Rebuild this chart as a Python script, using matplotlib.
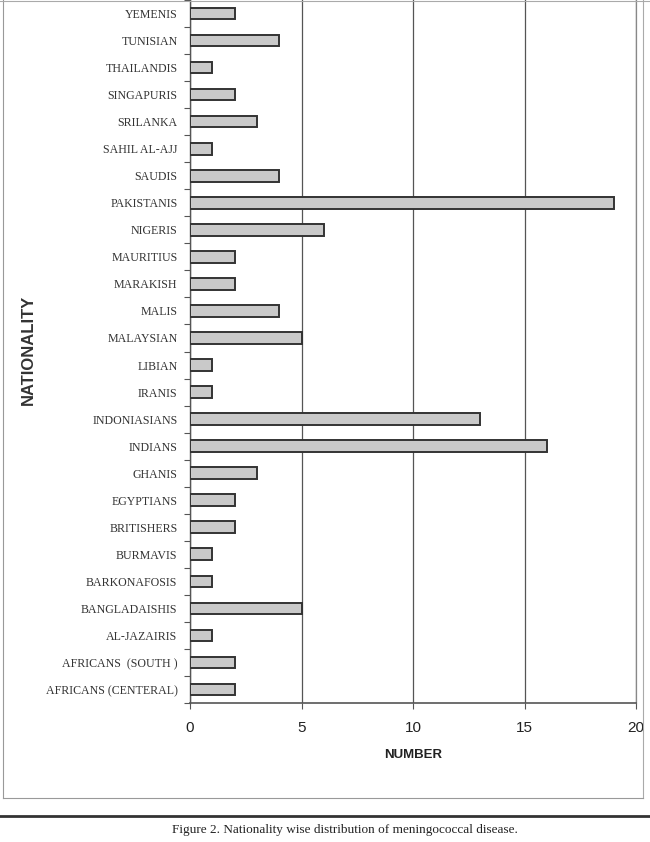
import matplotlib
matplotlib.use("Agg")
import matplotlib.pyplot as plt
from matplotlib.lines import Line2D
import numpy as np

# Data (bottom to top as drawn)
categories = [
    "AFRICANS (CENTERAL)", "AFRICANS  (SOUTH )", "AL-JAZAIRIS", "BANGLADAISHIS",
    "BARKONAFOSIS", "BURMAVIS", "BRITISHERS", "EGYPTIANS", "GHANIS", "INDIANS",
    "INDONIASIANS", "IRANIS", "LIBIAN", "MALAYSIAN", "MALIS", "MARAKISH",
    "MAURITIUS", "NIGERIS", "PAKISTANIS", "SAUDIS", "SAHIL AL-AJJ", "SRILANKA",
    "SINGAPURIS", "THAILANDIS", "TUNISIAN", "YEMENIS",
]
values = [2, 2, 1, 5, 1, 1, 2, 2, 3, 16, 13, 1, 1, 5, 4, 2, 2, 6, 19, 4, 1, 3, 2, 1, 4, 2]
xticks = [0, 5, 10, 15, 20]

fig = plt.figure(figsize=(6.5, 8.42), dpi=100)
fig.patch.set_facecolor("white")
ax = fig.add_axes([190/650, 1 - 703/842, (636-190)/650, 703/842])

y = np.arange(len(categories))
ax.barh(y, values, height=0.43, color="#c9c9c9", edgecolor="#333333", linewidth=1.4, zorder=3)

ax.set_xlim(0, 20)
ax.set_ylim(-0.5, len(categories) - 0.5)
ax.set_xticks(xticks)
ax.set_xticklabels([str(t) for t in xticks], fontfamily="Liberation Sans", fontsize=11, color="#222222")
ax.set_yticks(y)
ax.set_yticklabels(categories, fontfamily="Liberation Serif", fontsize=8.6, color="#333333")
ax.set_yticks(np.arange(len(categories) + 1) - 0.5, minor=True)
ax.tick_params(axis="y", which="major", length=0, pad=9)
ax.tick_params(axis="y", which="minor", length=4, width=0.8, color="#555555", direction="out")
ax.tick_params(axis="x", length=4, width=0.8, color="#555555", pad=9)

ax.grid(axis="x", color="#555555", linewidth=0.9, zorder=0)
ax.spines["top"].set_visible(False)
ax.spines["right"].set_color("#888888")
ax.spines["right"].set_linewidth(0.9)
ax.spines["left"].set_color("#555555")
ax.spines["bottom"].set_color("#555555")
ax.spines["left"].set_linewidth(1.0)
ax.spines["bottom"].set_linewidth(1.2)

ax.set_xlabel("NUMBER", fontfamily="Liberation Sans", fontsize=9.5, fontweight="bold", color="#222222", labelpad=10)
fig.text(28/650, 1 - 350/842, "NATIONALITY", rotation=90, ha="center", va="center",
         fontfamily="Liberation Sans", fontsize=12, fontweight="bold", color="#333333")

# Outer frame and rules
fig.add_artist(Line2D([3/650, 3/650], [1 - 798/842, 1.0], transform=fig.transFigure, color="#999999", linewidth=0.8))
fig.add_artist(Line2D([643/650, 643/650], [1 - 798/842, 1.0], transform=fig.transFigure, color="#aaaaaa", linewidth=0.8))
fig.add_artist(Line2D([3/650, 643/650], [1 - 798/842, 1 - 798/842], transform=fig.transFigure, color="#999999", linewidth=0.8))
fig.add_artist(Line2D([0, 1], [1 - 1/842, 1 - 1/842], transform=fig.transFigure, color="#aaaaaa", linewidth=0.8))
fig.add_artist(Line2D([0, 1], [1 - 816/842, 1 - 816/842], transform=fig.transFigure, color="#333333", linewidth=2.0))

fig.text(345/650, 1 - 830/842, "Figure 2. Nationality wise distribution of meningococcal disease.",
         ha="center", va="center", fontfamily="Liberation Serif", fontsize=9.5, color="#222222")

fig.savefig("out.png", dpi=100, facecolor="white")
